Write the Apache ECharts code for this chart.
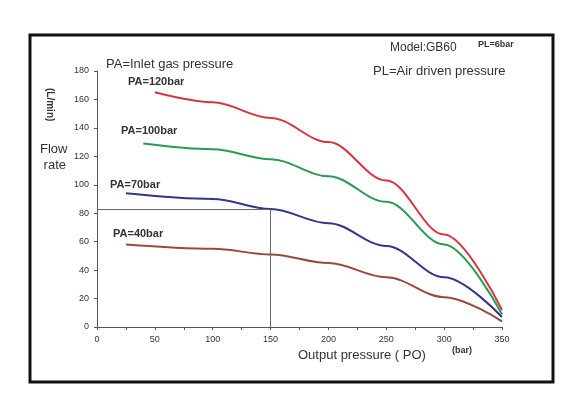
<!DOCTYPE html><html><head><meta charset="utf-8"><script src="https://cdn.jsdelivr.net/npm/echarts@6/dist/echarts.min.js"></script></head><body style="margin:0;background:#fff"><div id="c" style="width:562px;height:419px"></div><script>
const xTicks=[0,50,100,150,200,250,300,350];
const pa120=[[50,165],[100,158],[150,147],[200,130],[250,103],[300,65],[350,12]];
const pa100=[[40,129],[100,125],[150,118],[200,106],[250,88],[300,58],[350,9]];
const pa70=[[25,94],[100,90],[150,83],[200,73],[250,57],[300,35],[350,7]];
const pa40=[[25,58],[100,55],[150,51],[200,45],[250,35],[300,21],[350,4]];
const refPoint=[150,83];
const ch=echarts.init(document.getElementById('c'));
const ls=c=>({type:'line',smooth:0.35,smoothMonotone:'x',symbol:'none',lineStyle:{color:c,width:2},itemStyle:{color:c}});
const lab=(t,x,y)=>({type:'text',left:x,top:y,style:{text:t,font:'bold 11px Arial',fill:'#333'}});
ch.setOption({animation:false,
grid:{left:97,right:60,top:71,bottom:92},
xAxis:{type:'value',min:0,max:350,interval:50,axisLine:{lineStyle:{color:'#555'}},axisTick:{length:3},minorTick:{show:true,splitNumber:2,length:3},axisLabel:{color:'#333',fontSize:9},splitLine:{show:false}},
yAxis:{type:'value',min:0,max:180,interval:20,axisLine:{show:true,lineStyle:{color:'#555'}},axisTick:{show:true,length:3},axisLabel:{color:'#333',fontSize:9},splitLine:{show:false}},
series:[
Object.assign(ls('#d9353f'),{data:pa120}),
Object.assign(ls('#2a9a55'),{data:pa100}),
Object.assign(ls('#33378a'),{data:pa70,markLine:{silent:true,symbol:'none',label:{show:false},lineStyle:{color:'#666',type:'solid',width:1},data:[[{coord:[0,refPoint[1]]},{coord:refPoint}],[{coord:[refPoint[0],0]},{coord:refPoint}]]}}),
Object.assign(ls('#9a4a3a'),{data:pa40})],
graphic:[
{type:'rect',shape:{x:30,y:35,width:523,height:347},style:{fill:'none',stroke:'#111',lineWidth:3}},
{type:'text',left:106,top:58,style:{text:'PA=Inlet gas pressure',font:'13px Arial',fill:'#333'}},
{type:'text',left:390,top:42,style:{text:'Model:GB60',font:'12px Arial',fill:'#333'}},
{type:'text',left:478,top:40,style:{text:'PL=6bar',font:'bold 9px Arial',fill:'#333'}},
{type:'text',left:373,top:65,style:{text:'PL=Air driven pressure',font:'13px Arial',fill:'#333'}},
lab('PA=120bar',128,76),lab('PA=100bar',121,125),lab('PA=70bar',110,179),lab('PA=40bar',113,228),
{type:'text',left:40,top:141,style:{text:'Flow\n rate',font:'13px Arial',fill:'#333',lineHeight:16}},
{type:'text',x:55,y:88,rotation:-Math.PI/2,style:{text:'(L/min)',font:'bold 10px Arial',fill:'#333'}},
{type:'text',x:68,y:88,rotation:-Math.PI/2,style:{text:'',font:'bold 10px Arial',fill:'#333'}},
{type:'text',left:298,top:349,style:{text:'Output pressure ( PO)',font:'13px Arial',fill:'#333'}},
{type:'text',left:452,top:346,style:{text:'(bar)',font:'bold 9px Arial',fill:'#333'}}
]});
</script></body></html>
